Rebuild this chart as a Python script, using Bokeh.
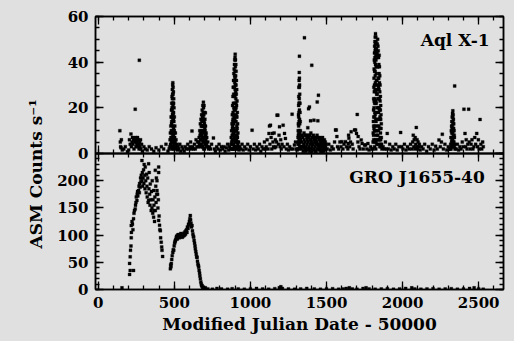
from bokeh.plotting import figure
from bokeh.layouts import column
from bokeh.models import (Range1d, LinearAxis, SingleIntervalTicker, Label, Title,
                          ColumnDataSource, GlobalInlineStyleSheet)
from bokeh.embed import file_html
from bokeh.resources import INLINE

# ---------------- data (MJD - 50000, ASM counts/s) ----------------
aql_quiet_a = [(142,10),(145,5),(147,3),(150,2.5),(152,6),(158,1.5),(168,2),(178,3),(192,0.8),(200,1.5),
               (205,6),(210,4),(215,8.5),(218,3),(222,5),(225,7),(228,4),(232,6),(235,2),(240,5),(243,19.4),
               (245,7),(248,3),(250,6),(253,4),(255,5),(258,7),(260,3),(262,6),(265,4),(268,2),(270,40.8),
               (272,5),(275,3),(278,6),(280,2),(285,4),(290,1),(300,3),(310,2),(322,1.5),(335,3),(350,2),
               (365,1),(380,2.5),(398,1.5),(415,3),(430,2),(445,4),(458,1),(466,2)]
aql_burst_1 = [(470,3),(472,6),(474,9),(475,4),(477,12),(478,7),(479,16),(480,10),(481,19),(482,13),(483,22),
               (484,16),(485,25),(486,19),(487,28),(488,22),(489,30),(490,31),(491,26),(492,29),(493,22),
               (494,27),(495,18),(496,24),(497,14),(498,20),(499,10),(500,16),(502,7),(503,12),(505,5),(507,9),
               (509,3),(511,6),(514,2),(517,4),(521,1.5),(525,3),(484,6),(486,10),(488,14),(490,18),(492,12),
               (494,8),(496,4),(489,3),(493,2),(491,21),(487,5),(495,11),(485,2),(497,7),(499,3),(483,9),(480,3),
               (481,5),(483,14),(485,20),(487,24),(489,26),(491,15),(493,17),(495,22),(497,10),(499,6),(501,9),
               (503,4),(486,3),(490,8),(492,5),(494,15),(496,9),(488,17),(482,7)]
aql_quiet_b = [(530,2),(536,4),(542,1),(550,3),(557,2),(565,1),(572,3),(580,2),(588,4),(595,2),(602,3),(607,5),
               (612,2),(616,9.8),(620,3),(626,2),(632,4),(638,2),(643,6),(648,3),(653,5)]
aql_burst_2 = [(658,3),(661,5),(663,7),(665,4),(667,10),(669,8),(671,13),(673,9),(675,15),(677,12),(679,17),
               (681,14),(683,19),(685,16),(687,21),(689,18),(691,22.5),(692,20),(694,17),(695,21),(696,14),
               (698,18),(700,11),(701,15),(703,8),(704,17.8),(705,12),(707,6),(709,9),(711,4),(713,7),(716,3),
               (720,5),(725,2),(670,3),(675,6),(680,8),(685,10),(690,12),(695,7),(700,4),(688,5),(683,3),(693,2),
               (678,4),(698,2),(672,6),(676,10),(680,12),(684,14),(686,12),(688,16),(690,15),(692,9),(694,12),
               (696,10),(698,13),(700,7),(702,10),(704,5),(706,8),(708,3),(682,7),(686,3),(690,6)]
aql_quiet_c = [(731,3),(738,2),(745,4),(757,6.8),(763,2),(770,1),(778,3),(786,2),(794,4),(802,1.5),(810,3),
               (818,2),(826,3),(834,1),(842,2.5),(850,4),(857,1.5),(863,3)]
aql_burst_3 = [(870,2),(872,4),(874,7),(876,10),(877,5),(879,13),(880,8),(881,17),(882,11),(883,21),(884,14),
               (885,25),(886,18),(887,29),(888,22),(889,32),(890,26),(891,35),(892,29),(893,37),(894,32),(895,39),
               (896,34),(897,41),(898,36),(899,42),(900,43.5),(901,38),(902,41),(903,34),(904,39),(905,30),
               (906,36),(907,26),(908,32),(909,21),(910,28),(911,16),(912,23),(913,11),(914,18),(915,7),(916,13),
               (917,4),(918,9),(920,3),(922,5),(925,1.5),(878,2),(882,4),(884,6),(886,8),(888,10),(890,13),
               (892,16),(894,19),(896,22),(898,25),(900,28),(902,30),(904,24),(906,20),(908,16),(910,12),(912,8),
               (914,5),(916,2),(890,4),(894,7),(898,10),(902,14),(906,10),(910,5),(886,2),(895,2),(904,3),(900,6),
               (908,2),(897,15),(893,11),(901,19),(905,14),(889,6),(907,6),(881,6),(883,12),(885,15),(887,9),
               (889,17),(891,20),(893,25),(895,29),(897,31),(899,33),(901,26),(903,27),(905,22),(907,17),(909,10),
               (911,7),(913,3),(885,4),(887,2),(899,5),(903,8),(905,6),(909,3),(895,14),(891,9),(897,20),(901,10),
               (893,3)]
aql_quiet_d = [(930,3),(937,2),(945,4),(953,1.5),(962,3),(972,2),(982,4),(992,1.5),(1000,3),(1011,10.2),
               (1018,2),(1026,4),(1034,1.5),(1043,3),(1052,2),(1060,4),(1068,1),(1076,3),(1084,2),(1092,5),(1098,2)]
aql_quiet_e = [(1104,3),(1110,6),(1116,2),(1122,8.8),(1125,12),(1128,4),(1132,12.4),(1136,7),(1140,2),(1145,8.8),
               (1148,5),(1152,3),(1156,9),(1160,2.5),(1164,6),(1168,3),(1172,5),(1175,16.8),(1180,16.8),(1184,4),
               (1188,8),(1191,11.7),(1195,3),(1199,6),(1203,2),(1208,4),(1215,12.4),(1220,3),(1224,8.8),
               (1230,6.6),(1236,2),(1243,4),(1250,1.5),(1258,3),(1266,2),(1274,17.2),(1280,2),(1289,3.7),
               (1296,5),(1302,2),(1307,1.5)]
aql_burst_4 = [(1310,2),(1312,4),(1313,7),(1314,10),(1315,13),(1316,17),(1317,21),(1318,25),(1319,29),(1320,32),
               (1321,35.5),(1322,33),(1323,30),(1324,26),(1325,22),(1326,18),(1327,14),(1328,10),(1329,6),
               (1330,3),(1316,5),(1318,9),(1320,14),(1322,19),(1324,13),(1326,7),(1317,12),(1319,18),(1321,24),
               (1323,22),(1325,9),(1320,4),(1322,8),(1318,2),(1324,3),(1322,42.6),(1317,16),(1319,22),(1321,29),
               (1323,15),(1325,5),(1315,8),(1319,6),(1321,10),(1323,5),(1327,3)]
aql_quiet_f = [(1335,2),(1338,5),(1341,3),(1344,7),(1347,1),(1350,4),(1352,9),(1353,6),(1355,50.7),(1356,2),
               (1359,5),(1362,3),(1365,8),(1368,1.5),(1371,4),(1374,6),(1377,11.3),(1377,2),(1380,5),(1382,19.6),
               (1383,3),(1386,7),(1388,20.4),(1389,1),(1392,4),(1395,14.3),(1395,6),(1398,2),(1401,5),(1403,38.6),
               (1404,3),(1407,7),(1410,1.5),(1413,4),(1416,6),(1417,14.6),(1419,2),(1422,5),(1425,3),(1428,6),
               (1431,1),(1434,4),(1437,5),(1439,22.6),(1440,2),(1443,14.3),(1443,4),(1446,3),(1447,25.5),
               (1449,6),(1452,1.5),(1455,4),(1458,2),(1461,5),(1464,3),(1467,6),(1470,1),(1473,4),(1476,2),
               (1479,5),(1482,3),(1485,4),(1488,1.5),(1491,3),(1494,2),(1497,4),(1340,8),(1346,3),(1358,8),
               (1364,1),(1370,7),(1379,8),(1385,2),(1391,8),(1397,9),(1402,1),(1408,4),(1414,8),(1420,7),
               (1426,1),(1432,7),(1438,8),(1444,7),(1450,3),(1456,7),(1462,1),(1468,3),(1474,7),(1480,1),
               (1486,6),(1492,5)]
aql_quiet_g = [(1505,2),(1515,4),(1525,1.5),(1535,3),(1545,2),(1553,5),(1559,10.3),(1564,10.3),(1568,7.4),
               (1572,3),(1580,2),(1588,5),(1595,3),(1601,5.2),(1608,2),(1615,4),(1625,5.2),(1632,3),(1640,2),
               (1643,4.4),(1645,8),(1647,6.7),(1652,3),(1658,5),(1662,9.5),(1669,4.1),(1675,2),(1684,10.3),
               (1691,10.3),(1697,8.8),(1702,17.1),(1706,5),(1708,7.4),(1714,3),(1720,2),(1728,5.9),(1734,4.4),
               (1742,2),(1750,3.7),(1757,3.7),(1765,2),(1772,4.4),(1780,1.5),(1790,3),(1798,2)]
aql_burst_5 = [(1805,2),(1806,5),(1807,9),(1808,14),(1809,19),(1810,24),(1811,29),(1812,33),(1813,37),(1814,41),
               (1815,44),(1816,47),(1818,49),(1820,51),(1822,52.5),(1824,51),(1826,49),(1828,46),(1830,43),
               (1810,6),(1812,11),(1814,16),(1816,22),(1818,28),(1820,34),(1822,39),(1824,43),(1826,38),
               (1828,32),(1830,26),(1832,20),(1818,42),(1820,45),(1822,46),(1824,30),(1826,14),(1828,8),
               (1830,4),(1816,36),(1814,27),(1812,20),(1810,12),(1820,17),(1822,10),(1824,23),(1826,27),
               (1828,18),(1832,12),(1816,3),(1820,6),(1824,2),(1818,12),(1822,22),(1834,48),(1836,50),(1838,47),
               (1840,45),(1842,42),(1844,39),(1846,35),(1848,31),(1850,27),(1852,23),(1854,19),(1856,15),
               (1858,11),(1860,7),(1862,4),(1864,2),(1840,33),(1842,29),(1844,24),(1846,20),(1848,15),(1850,11),
               (1852,7),(1854,4),(1846,43),(1848,38),(1850,34),(1852,30),(1854,25),(1856,21),(1858,17),
               (1860,13),(1850,3),(1844,12),(1842,18),(1838,38),(1836,42),(1856,6),(1848,6),(1852,15),
               (1809,8),(1811,16),(1813,23),(1815,30),(1817,40),(1819,36),(1821,48),(1823,45),(1825,41),(1827,35),
               (1829,28),(1831,32),(1833,44),(1835,38),(1837,30),(1839,24),(1841,20),(1843,33),(1845,28),(1847,24),
               (1849,19),(1851,16),(1853,11),(1855,9),(1857,3),(1813,5),(1815,10),(1817,18),(1819,24),(1821,31),
               (1823,15),(1825,5),(1827,22),(1829,10),(1831,6),(1833,26),(1835,15),(1837,8),(1839,4),(1841,10),
               (1843,6)]
aql_quiet_h = [(1872,3),(1880,2),(1887,5),(1893,2),(1899,8.8),(1906,2),(1915,4),(1925,1.5),(1935,3),(1945,2),
               (1955,4),(1965,1.5),(1975,3),(1987,9.2),(1993,3),(2002,2),(2012,4),(2022,1.5),(2032,3),(2042,2),
               (2052,4),(2060,2),(2066,5),(2070,8),(2073,3),(2076,6),(2080,2),(2083,7),(2086,4),(2090,11.4),
               (2092,3),(2095,6),(2098,2),(2102,5),(2106,3),(2110,4),(2115,1.5),(2125,3),(2135,2),(2145,4),
               (2158,1),(2170,3),(2182,2),(2195,4),(2207,1.5),(2217,3.2),(2228,2),(2239,5.9),(2248,3),(2255,5),
               (2261,8.4),(2268,2),(2278,4),(2290,1.5),(2300,3),(2308,2)]
aql_burst_6 = [(2314,2),(2316,4),(2318,7),(2320,10),(2322,12),(2324,14),(2326,16),(2328,17.5),(2330,18.7),
               (2332,17),(2334,15),(2336,13),(2338,10),(2340,7),(2342,4),(2344,2),(2320,3),(2324,6),(2328,9),
               (2332,11),(2336,7),(2340,3),(2326,12),(2330,14),(2334,10),(2322,5),(2318,2),(2328,4),(2332,5),
               (2342,29.6),(2321,7),(2323,9),(2325,11),(2327,14),(2329,16),(2331,13),(2333,8),(2335,11),(2337,5),
               (2339,8),(2325,3),(2329,6),(2333,3)]
aql_quiet_i = [(2352,2),(2360,4),(2368,1.5),(2376,3),(2384,2),(2392,5),(2398,3),(2403,19.4),(2410,8.8),(2414,3),
               (2418,6),(2423,2),(2428,4),(2434,19.4),(2438,5),(2444,2),(2450,4),(2456,6),(2462,2),(2468,3),
               (2474,7),(2480,4),(2487,8.8),(2492,3),(2498,6),(2503,2),(2509,14.9),(2514,4),(2520,2),(2526,5),
               (2530,3)]

gro_outburst_1 = [(156,3),(206,27.6),(210,35),(232,35),(206,48),(210,60),(212,72),(215,80),(217,95),(218,105),
                  (217,117.6),(222,125),(225,120),(228,110),(232,130),(235,140),(238,145),(243,148),(245,155),
                  (248,160),(250,170),(254,163.6),(256,175),(258,180),(260,172),(265,182),(268,190),(270,178),
                  (272,195),(275,188),(278,205),(280,198),(283,210),(287,200),(287,237),(290,215),(292,190),
                  (295,205),(298,220),(300,195),(302,230),(305,210),(307,185),(309,225),(312,200),(315,178),
                  (318,212),(320,190),(322,170),(325,205),(328,160),(331,231),(331,163.6),(333,185),(335,215),
                  (338,175),(340,155),(342,194),(345,165),(348,145),(350,180),(353,150),(355,200),(358,140),
                  (360,165),(364,182),(364,133),(366,155),(368,145),(370,125),(372,170),(375,219),(375,145),
                  (378,190),(380,160),(382,205),(384,175),(386,200),(386,182),(390,175),(392,150),(395,165),
                  (397,225),(397,215),(397,127),(400,135),(403,118),(405,110),(408,108),(410,95),(414,87),
                  (417,78),(419,72),(423,60.7)]
gro_outburst_2 = [(474,38),(476,45),(478,42),(480,48),(483,55),(486,62),(490,68),(493,73),(496,72),(499,80),
                  (502,85),(505,88),(507,90),(510,92),(513,95),(515,98),(518,97),(520,93),(522,100),(525,96),
                  (528,101),(530,98),(533,95),(536,100),(540,99),(543,103),(546,97),(550,101),(553,96),(556,102),
                  (559,99),(562,99),(565,104),(568,100),(571,106),(574,102),(577,108),(580,110),(583,105),
                  (586,115),(590,112),(593,120),(596,118),(599,125),(602,130),(605,136),(607,128),(610,122),
                  (613,115),(616,117.6),(619,108),(622,102),(625,98),(627,96),(630,90),(633,85),(636,80),
                  (638,75),(641,70),(644,65),(647,60),(649,59),(652,52),(655,47),(658,44),(660,41),(663,35),
                  (666,30),(668,25),(671,19.6),(674,14),(677,10),(680,7),(682,7),(686,4),(690,3),(695,2),(704,3)]
gro_quiet = [(720,1),(750,0.5),(780,2),(810,1),(850,0.5),(880,1.5),(920,1),(960,0.5),(1000,1),(1040,2),
             (1080,1),(1120,0.5),(1160,1.5),(1190,3),(1200,5),(1210,2),(1250,1),(1290,0.5),(1330,1),(1370,2),
             (1420,1),(1460,0.5),(1500,1),(1540,1.5),(1580,0.5),(1610,1),(1630,2),(1650,3),(1670,1),(1700,0.5),
             (1740,2),(1760,3),(1780,1),(1820,0.5),(1860,1),(1900,1.5),(1940,0.5),(1980,1),(2020,2),(2060,3),
             (2080,1),(2120,0.5),(2160,1),(2200,1.5),(2240,0.5),(2280,1),(2320,1.5),(2360,0.5),(2400,1),
             (2440,2),(2470,3),(2500,1),(2530,0.5)]

aql_segments = [aql_quiet_a, aql_burst_1, aql_quiet_b, aql_burst_2, aql_quiet_c, aql_burst_3, aql_quiet_d,
                aql_quiet_e, aql_burst_4, aql_quiet_f, aql_quiet_g, aql_burst_5, aql_quiet_h, aql_burst_6,
                aql_quiet_i]
gro_segments = [gro_outburst_1, gro_outburst_2, gro_quiet]

aql_name = "Aql X-1"
gro_name = "GRO J1655-40"
x_title = "Modified Julian Date - 50000"
y_title = "ASM Counts s\u207b\u00b9"

x_lo, x_hi = -18, 2663
aql_y = (0, 60)
gro_y = (0, 250)

# ---------------- style ----------------
BG = "#e0e0e0"
FONT = "DejaVu Serif"
FS = "15px"
TFS = "17px"
W = 512


def unzip(segs):
    xs, ys = [], []
    for s in segs:
        for a, b in s:
            xs.append(a)
            ys.append(b)
    return ColumnDataSource(dict(x=xs, y=ys))


def style_axis(ax, labels):
    ax.axis_line_color = "black"
    ax.axis_line_width = 1.5
    ax.major_tick_in = 8
    ax.major_tick_out = 0
    ax.minor_tick_in = 4
    ax.minor_tick_out = 0
    ax.major_tick_line_color = "black"
    ax.minor_tick_line_color = "black"
    ax.major_tick_line_width = 1.3
    ax.minor_tick_line_width = 1.3
    ax.major_label_text_font = FONT
    ax.major_label_text_font_style = "bold"
    ax.major_label_text_font_size = FS
    ax.major_label_standoff = 7
    ax.major_label_text_color = "black" if labels else None


def add_axes(p, yint, yminor, ybounds, x_labels):
    for side in ("left", "right"):
        ax = LinearAxis(ticker=SingleIntervalTicker(interval=yint, num_minor_ticks=yminor), bounds=ybounds)
        style_axis(ax, side == "left")
        p.add_layout(ax, side)
    for side in ("below", "above"):
        ax = LinearAxis(ticker=SingleIntervalTicker(interval=500, num_minor_ticks=5))
        style_axis(ax, x_labels and side == "below")
        p.add_layout(ax, side)


# ---------- upper panel: Aql X-1 ----------
p_top = figure(width=W, height=165, x_range=Range1d(x_lo, x_hi), y_range=Range1d(*aql_y),
               output_backend="svg", toolbar_location=None,
               x_axis_location=None, y_axis_location=None,
               min_border_left=95, min_border_right=9, min_border_top=16, min_border_bottom=12,
               background_fill_color=BG, border_fill_color=BG,
               outline_line_color="black", outline_line_width=1.5)
p_top.grid.visible = False
add_axes(p_top, 20, 4, aql_y, False)
p_top.scatter("x", "y", source=unzip(aql_segments), marker="square", size=3.0,
              fill_color="black", line_color="black", line_width=0.3)
p_top.add_layout(Label(x=2572, y=49.6, text=aql_name, text_align="right", text_baseline="alphabetic",
                       text_font=FONT, text_font_style="bold", text_font_size=TFS, text_color="black"))

# ---------- lower panel: GRO J1655-40 (its transparent top border overlaps the upper panel) ----------
p_bot = figure(width=W, height=249, x_range=p_top.x_range, y_range=Range1d(*gro_y),
               output_backend="svg", toolbar_location=None,
               x_axis_location=None, y_axis_location=None,
               min_border_left=95, min_border_right=9, min_border_top=63, min_border_bottom=50,
               background_fill_alpha=0, border_fill_alpha=0,
               outline_line_color="black", outline_line_width=1.5)
p_bot.margin = (-75, 0, 0, 0)
p_bot.grid.visible = False
add_axes(p_bot, 50, 5, (gro_y[0], gro_y[1] - 0.1), True)
ax_b = p_bot.below[0]
ax_b.axis_label = x_title
ax_b.axis_label_text_font = FONT
ax_b.axis_label_text_font_style = "bold"
ax_b.axis_label_text_font_size = TFS
ax_b.axis_label_text_color = "black"
ax_b.axis_label_standoff = 3
p_bot.right[0].bounds = gro_y
p_bot.scatter("x", "y", source=unzip(gro_segments), marker="square", size=3.0,
              fill_color="black", line_color="black", line_width=0.3)
p_bot.add_layout(Label(x=2540, y=206, text=gro_name, text_align="right", text_baseline="alphabetic",
                       text_font=FONT, text_font_style="bold", text_font_size=TFS, text_color="black"))
p_bot.add_layout(Title(text=y_title, align="left", offset=41, standoff=17,
                       text_font=FONT, text_font_style="bold", text_font_size=TFS,
                       text_color="black"), "left")

layout = column(p_top, p_bot)
layout.stylesheets = [GlobalInlineStyleSheet(css="body { background-color: #e0e0e0; }")]

open("out.html", "w").write(file_html(layout, INLINE))
